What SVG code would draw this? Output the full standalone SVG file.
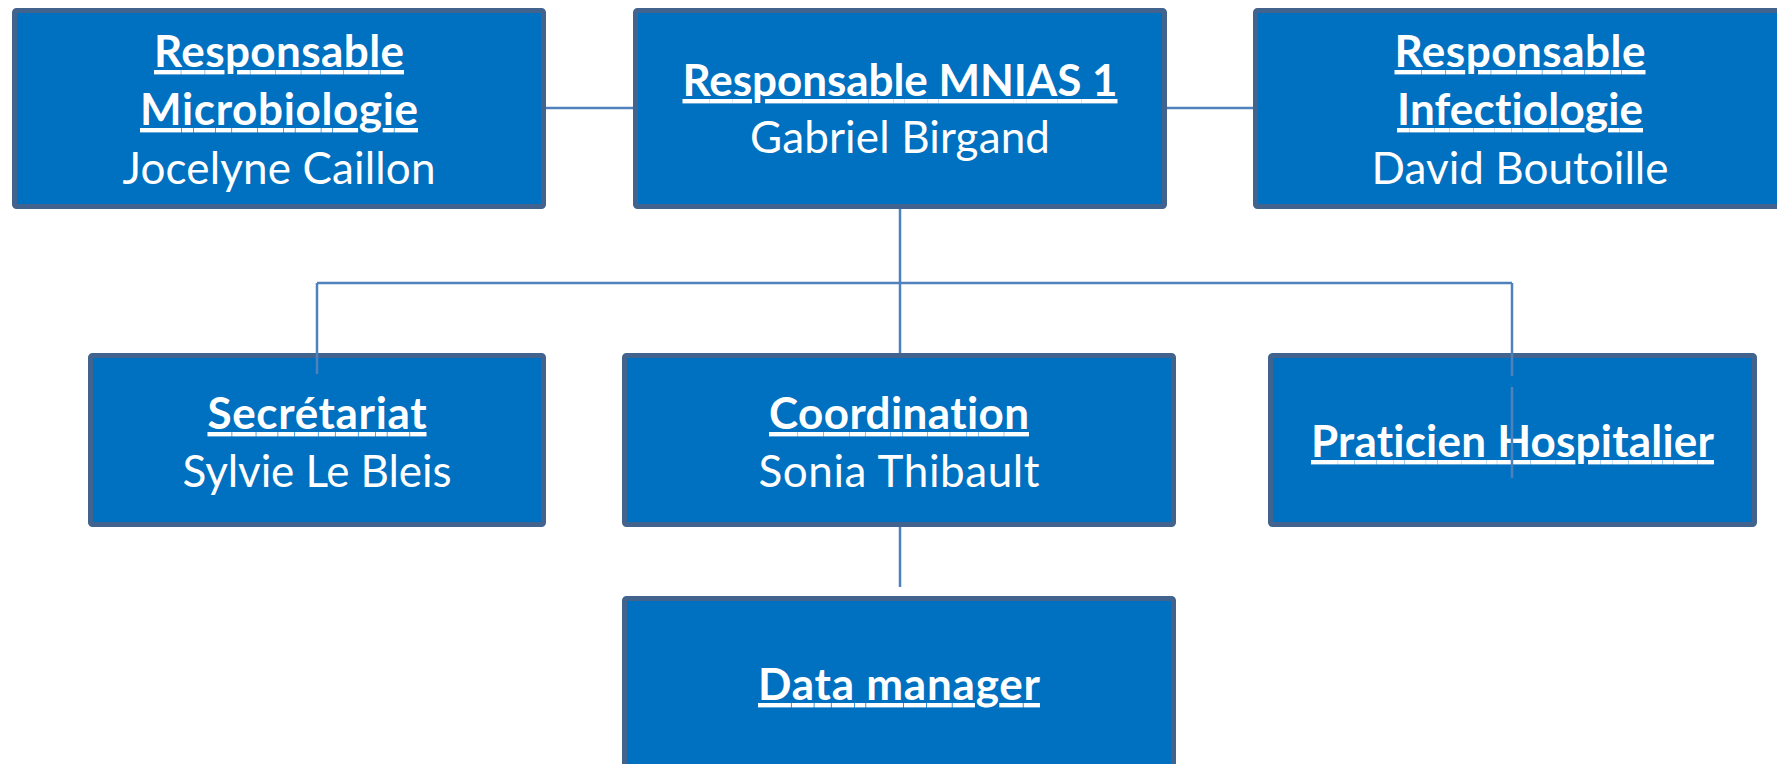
<svg xmlns="http://www.w3.org/2000/svg" width="1777" height="764" viewBox="0 0 1777 764">
  <style>
    .box { fill: #0070C0; stroke: #41638E; stroke-width: 5; }
    .t { font-family: Lato, "Open Sans", "Liberation Sans", sans-serif; font-size: 44px; fill: #FFFFFF; text-anchor: middle; font-variant-ligatures: none; font-feature-settings: "liga" 0, "clig" 0; }
    .h { font-weight: 700; text-decoration: underline; }
    .conn { fill: none; stroke: #4F81BD; stroke-width: 2.5; }
  </style>
  <rect width="1777" height="764" fill="#FFFFFF"/>
  <g id="node-microbiologie">
    <rect class="box" x="14.5" y="10.5" width="529" height="196" rx="2"/>
    <text class="t h" x="279" y="67" textLength="250">Responsable</text>
    <text class="t h" x="279" y="125" textLength="278">Microbiologie</text>
    <text class="t" x="279" y="184" textLength="313">Jocelyne Caillon</text>
  </g>
  <g id="node-mnias">
    <rect class="box" x="635.5" y="10.5" width="529" height="196" rx="2"/>
    <text class="t h" x="900" y="96" textLength="435">Responsable MNIAS 1</text>
    <text class="t" x="900" y="153" textLength="300">Gabriel Birgand</text>
  </g>
  <g id="node-infectiologie">
    <rect class="box" x="1255.5" y="10.5" width="529" height="196" rx="2"/>
    <text class="t h" x="1520" y="67" textLength="251">Responsable</text>
    <text class="t h" x="1520" y="125" textLength="246">Infectiologie</text>
    <text class="t" x="1520" y="184" textLength="297">David Boutoille</text>
  </g>
  <g id="node-secretariat">
    <rect class="box" x="90.5" y="355.5" width="453" height="169" rx="2"/>
    <text class="t h" x="317" y="429" textLength="219">Secrétariat</text>
    <text class="t" x="317" y="487" textLength="269">Sylvie Le Bleis</text>
  </g>
  <g id="node-coordination">
    <rect class="box" x="624.5" y="355.5" width="549" height="169" rx="2"/>
    <text class="t h" x="899" y="429" textLength="260">Coordination</text>
    <text class="t" x="899" y="487" textLength="281">Sonia Thibault</text>
  </g>
  <g id="node-praticien">
    <rect class="box" x="1270.5" y="355.5" width="484" height="169" rx="2"/>
    <text class="t h" x="1512.5" y="457" textLength="403">Praticien Hospitalier</text>
  </g>
  <g id="node-datamanager">
    <rect class="box" x="624.5" y="598.5" width="549" height="169" rx="2"/>
    <text class="t h" x="899" y="700" textLength="282">Data manager</text>
  </g>
  <g id="connectors">
    <path class="conn" d="M546 108 H633"/>
    <path class="conn" d="M1167 108 H1253"/>
    <path class="conn" d="M900 209 V353"/>
    <path class="conn" d="M317 283 H1512"/>
    <path class="conn" d="M317 283 V374"/>
    <path class="conn" d="M1512 283 V376 M1512 387 V478"/>
    <path class="conn" d="M900 527 V587"/>
  </g>
</svg>
